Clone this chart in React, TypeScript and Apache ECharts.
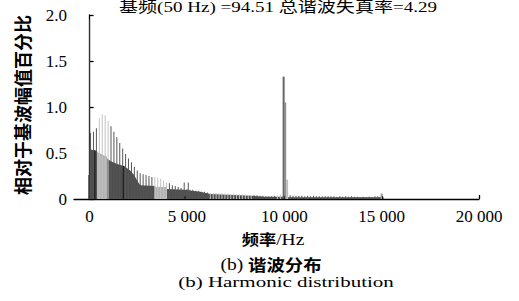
import React, { useEffect, useRef } from "react";
import * as echarts from "echarts";

// ---- data ----
const xTickValues = [0, 5000, 10000, 15000, 20000];
const xTickLabels = ["0", "5 000", "10 000", "15 000", "20 000"];
const yTickLabels = ["0", "0.5", "1.0", "1.5", "2.0"];

const titleText = "基频(50 Hz) =94.51 总谐波失真率=4.29";
const yAxisName = "相对于基波幅值百分比";

// thin dark harmonic lines
const darkCombHz = [
  50, 200, 350, 1100, 1250, 1400, 1550, 1700, 1850, 2000, 2150, 2300, 2450, 2600,
  2750, 2900, 3050, 3200, 4100, 4250, 4400, 4550, 4700, 4860, 5000, 5070, 5150,
  5300, 5450, 5600, 5750, 5900, 6050, 8450, 8600, 8750, 8900, 9050, 9200, 9350,
  9500, 10300, 10450, 10600, 10750, 10900, 11050, 11200, 11350, 11500, 11650,
  11800, 11950, 12100, 12250, 12400, 12550, 12700, 12850, 13000, 13150, 13300,
  13450, 13600, 13750, 13900, 14050, 14200, 14350, 14500, 14650, 14800,
];
const darkCombVal = [
  0.72, 0.73, 0.77, 0.79, 0.73, 0.67, 0.61, 0.55, 0.49, 0.44, 0.4, 0.35, 0.31, 0.28,
  0.27, 0.26, 0.25, 0.24, 0.17, 0.15, 0.14, 0.13, 0.12, 0.18, 0.11, 0.18, 0.1,
  0.1, 0.09, 0.09, 0.08, 0.08, 0.07, 0.04, 0.04, 0.035, 0.035, 0.03, 0.03, 0.03,
  0.035, 0.04, 0.035, 0.035, 0.035, 0.035, 0.03, 0.035, 0.03, 0.035, 0.03,
  0.03, 0.03, 0.03, 0.03, 0.03, 0.03, 0.025, 0.03, 0.025, 0.03, 0.025,
  0.03, 0.025, 0.025, 0.02, 0.025, 0.02, 0.025, 0.02, 0.03, 0.03,
];

// thin light harmonic lines
const lightCombHz = [
  500, 650, 800, 950, 3350, 3500, 3650, 3800, 3950, 6200, 6350, 6500, 6650, 6800,
  6950, 7100, 7250, 7400, 7550, 7700, 7850, 8000, 8150, 8300, 9650, 9800,
];
const lightCombVal = [
  0.88, 0.92, 0.91, 0.85, 0.24, 0.23, 0.22, 0.2, 0.18, 0.065, 0.065, 0.065, 0.06, 0.065,
  0.06, 0.06, 0.055, 0.06, 0.055, 0.05, 0.05, 0.045, 0.045, 0.04, 0.04, 0.05,
];

// dark filled envelope
const darkAreaHz = [
  -70, -70, -5, -5, 230, 390, 390, 900, 900, 1090, 1415, 1775, 2085, 2290, 2440,
  2600, 3370, 3370, 3940, 3940, 4860, 5680, 6200, 8300, 9000, 9900, 10200, 14800,
  15100, 15100,
];
const darkAreaVal = [
  0, 0.26, 0.26, 0.54, 0.53, 0.52, 0, 0, 0.44, 0.41, 0.38, 0.36, 0.31, 0.26, 0.2,
  0.15, 0.14, 0, 0, 0.11, 0.1, 0.08, 0.055, 0.035, 0.025, 0.025, 0.02, 0.02,
  0.02, 0,
];

// light filled envelope
const lightAreaHz = [390, 390, 600, 900, 900, 3370, 3370, 3940, 3940];
const lightAreaVal = [0, 0.51, 0.49, 0.46, 0, 0, 0.13, 0.13, 0];

// black marks
const blackHz = [270, 1730, 4900, 10000, 15050];
const blackVal = [0.53, 0.36, 0.03, 0.03, 0.03];

// low-frequency spike
const lowSpikeHz = [0];
const lowSpikeVal = [1.95];

// peaks around 10 kHz and 15 kHz
const peakHz = [9940, 10020, 10120, 14980];
const peakVal = [1.33, 1.05, 0.21, 0.06];

const zip = (a: number[], b: number[]) => a.map((v, i) => [v, b[i]]);

export default function App() {
  const ref = useRef<HTMLDivElement>(null);
  useEffect(() => {
    if (!ref.current) return;
    const chart = echarts.init(ref.current, null, { renderer: "svg" });
    const serif = '"Liberation Serif", "Times New Roman", serif';
    const cjk = '"Noto Sans CJK SC", sans-serif';
    const peakColors = ["#666666", "#8e8e8e", "#bdbdbd", "#9a9a9a"];
    const barCommon = { type: "bar", barGap: "-100%", silent: true };
    chart.setOption({
      animation: false,
      grid: { left: 74, right: 40, top: 15, bottom: 102, containLabel: false },
      xAxis: {
        type: "value",
        min: -800,
        max: 20000,
        axisLine: { show: true, lineStyle: { color: "#000", width: 1.3 } },
        axisTick: { show: true, inside: true, length: 4, customValues: xTickValues, lineStyle: { color: "#000", width: 1.3 } },
        axisLabel: {
          customValues: xTickValues,
          formatter: (v: number) => xTickLabels[xTickValues.indexOf(v)] ?? "",
          color: "#000",
          fontFamily: serif,
          fontSize: 17,
          margin: 9,
        },
        splitLine: { show: false },
      },
      yAxis: {
        type: "value",
        min: 0,
        max: 2,
        interval: 0.5,
        axisLine: { show: true, lineStyle: { color: "#000", width: 1.3 } },
        axisTick: { show: true, inside: true, length: 4, lineStyle: { color: "#000", width: 1.3 } },
        axisLabel: {
          formatter: (v: number) => yTickLabels[Math.round(v / 0.5)] ?? "",
          color: "#000",
          fontFamily: serif,
          fontSize: 17,
          margin: 7,
        },
        splitLine: { show: false },
      },
      series: [
        {
          type: "line",
          data: zip(darkAreaHz, darkAreaVal),
          symbol: "none",
          lineStyle: { width: 0 },
          areaStyle: { color: "#4f4f4f", opacity: 1 },
          z: 1,
          silent: true,
        },
        {
          type: "line",
          data: zip(lightAreaHz, lightAreaVal),
          symbol: "none",
          lineStyle: { width: 0 },
          areaStyle: { color: "#b2b2b2", opacity: 1 },
          z: 1,
          silent: true,
        },
        { ...barCommon, data: zip(darkCombHz, darkCombVal), barWidth: 1, itemStyle: { color: "#555555" }, z: 3 },
        { ...barCommon, data: zip(lightCombHz, lightCombVal), barWidth: 1, itemStyle: { color: "#c4c4c4" }, z: 3 },
        { ...barCommon, data: zip(lowSpikeHz, lowSpikeVal), barWidth: 1, itemStyle: { color: "#3a3a3a" }, z: 4 },
        {
          ...barCommon,
          data: zip(peakHz, peakVal).map((d, i) => ({ value: d, itemStyle: { color: peakColors[i] } })),
          barWidth: 2,
          z: 4,
        },
        { ...barCommon, data: zip(blackHz, blackVal), barWidth: 1, itemStyle: { color: "#111111" }, z: 5 },
      ],
      graphic: [
        {
          type: "text",
          x: 278,
          y: 15,
          scaleX: 1.27,
          silent: true,
          style: { text: titleText, font: `15px "Liberation Serif", "Noto Sans CJK SC", serif`, fill: "#000", align: "center", verticalAlign: "bottom" },
        },
        {
          type: "text",
          x: 22,
          y: 105,
          rotation: Math.PI / 2,
          silent: true,
          style: { text: yAxisName, font: `bold 18px ${cjk}`, fill: "#000", align: "center", verticalAlign: "middle" },
        },
        {
          type: "text",
          x: 273,
          y: 239,
          scaleX: 1.15,
          silent: true,
          style: {
            text: "{c|频率}{l|/Hz}",
            align: "center",
            verticalAlign: "middle",
            rich: {
              c: { fontFamily: cjk, fontWeight: "bold", fontSize: 15, fill: "#000" },
              l: { fontFamily: serif, fontSize: 17, fill: "#000" },
            },
          },
        },
        {
          type: "text",
          x: 271,
          y: 264,
          scaleX: 1.15,
          silent: true,
          style: {
            text: "{l|(b) }{c|谐波分布}",
            align: "center",
            verticalAlign: "middle",
            rich: {
              c: { fontFamily: cjk, fontWeight: "bold", fontSize: 16, fill: "#000" },
              l: { fontFamily: serif, fontSize: 17, fill: "#000" },
            },
          },
        },
        {
          type: "text",
          x: 286,
          y: 282,
          scaleX: 1.4,
          silent: true,
          style: { text: "(b) Harmonic distribution", font: `15px ${serif}`, fill: "#000", align: "center", verticalAlign: "middle" },
        },
      ],
    });
    return () => chart.dispose();
  }, []);
  return <div ref={ref} style={{ width: 519, height: 301, position: "absolute", left: 0, top: 0 }} />;
}
